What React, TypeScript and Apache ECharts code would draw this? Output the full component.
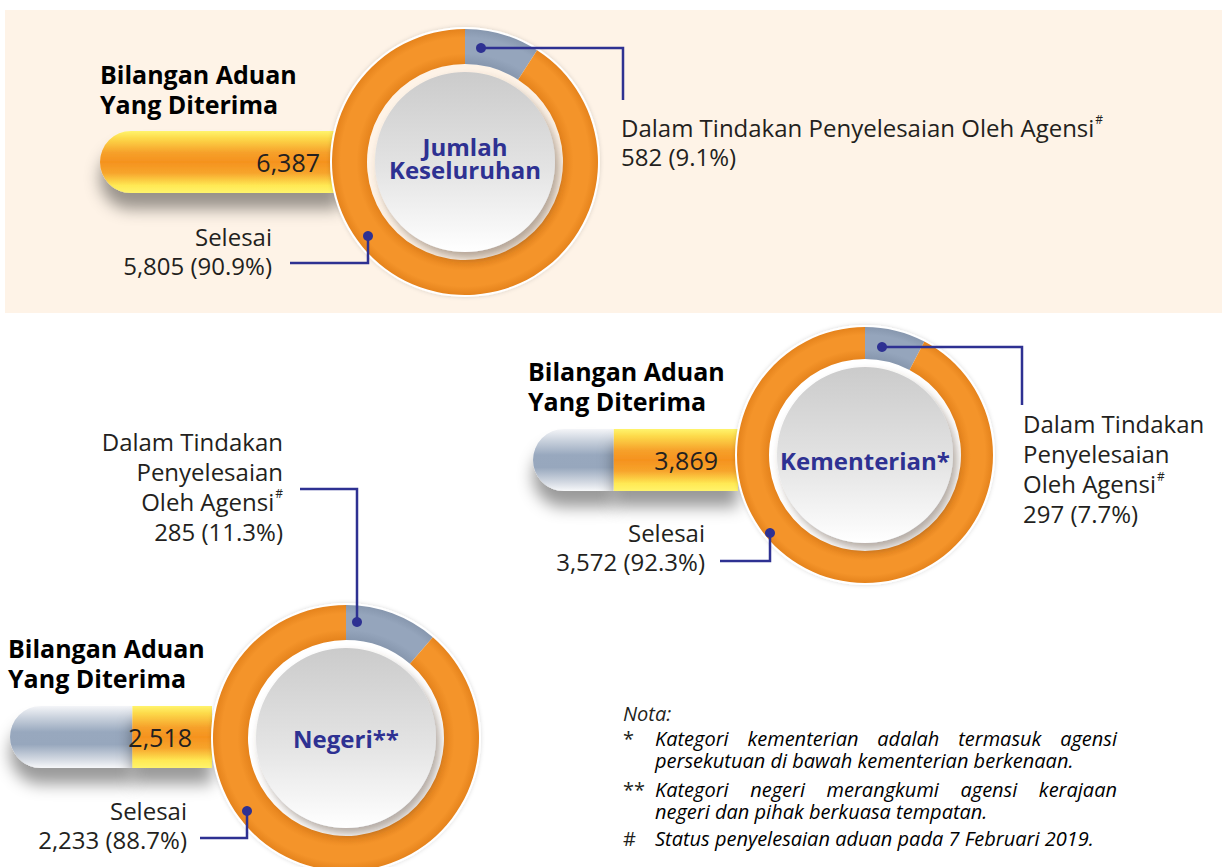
import React, { useEffect, useRef } from 'react';
import * as echarts from 'echarts';

// ---------- data ----------
const categories = ['Jumlah Keseluruhan', 'Kementerian*', 'Negeri**'];
const centerLabels = ['Jumlah\nKeseluruhan', 'Kementerian*', 'Negeri**'];
const received = [6387, 3869, 2518];
const completed = [5805, 3572, 2233];
const inProgress = [582, 297, 285];
const completedPct = ['90.9%', '92.3%', '88.7%'];
const inProgressPct = ['9.1%', '7.7%', '11.3%'];
const titleText = 'Bilangan Aduan\nYang Diterima';
const completedLabel = 'Selesai';
const inProgressLabel = 'Dalam Tindakan Penyelesaian Oleh Agensi';
const notes = [
  { mark: '*', lines: ['Kategori kementerian adalah termasuk agensi', 'persekutuan di bawah kementerian berkenaan.'] },
  { mark: '**', lines: ['Kategori negeri merangkumi agensi kerajaan', 'negeri dan pihak berkuasa tempatan.'] },
  { mark: '#', lines: ['Status penyelesaian aduan pada 7 Februari 2019.'] },
];

// ---------- layout ----------
const FONT = '"Open Sans", Lato, sans-serif';
const NAVY = '#2E3192';
const TEXT = '#231F20';
const PANEL = '#FEF3E7';

const donuts = [
  { cx: 465, cy: 162, r: 133, ri: 98, rc: 90, bg: PANEL, ly: 158 },
  { cx: 865, cy: 455, r: 128, ri: 96, rc: 88, bg: '#FFFFFF', ly: 460 },
  { cx: 346, cy: 738, r: 133, ri: 98, rc: 90, bg: '#FFFFFF', ly: 738 },
];
const bars = [
  { left: 100, top: 131, width: 240 },
  { left: 533, top: 429, width: 205 },
  { left: 10, top: 706, width: 202 },
];
const titles = [
  { x: 100, y: 59 },
  { x: 528, y: 356 },
  { x: 8, y: 633 },
];
const selesaiPos = [
  { x: 272, y: 236, line: [[368, 236], [368, 263], [290, 263]] },
  { x: 705, y: 532, line: [[770, 533], [770, 561], [720, 561]] },
  { x: 187, y: 810, line: [[247, 811], [247, 838], [200, 838]] },
];
const dalamPos = [
  { line: [[481, 48], [623, 48], [623, 100]] },
  { line: [[882, 347], [1022, 347], [1022, 405]] },
  { line: [[357, 622], [357, 489], [300, 489]] },
];

const fmt = (v: number) => v.toLocaleString('en-US');

function orangeGrad() {
  return new echarts.graphic.LinearGradient(0, 0, 0, 1, [
    { offset: 0, color: '#FFF46C' },
    { offset: 0.12, color: '#FDD94A' },
    { offset: 0.35, color: '#F6A02A' },
    { offset: 0.5, color: '#F5921E' },
    { offset: 0.68, color: '#F7A52C' },
    { offset: 0.88, color: '#FFE954' },
    { offset: 1, color: '#FFF46C' },
  ]);
}
function steelGrad() {
  return new echarts.graphic.LinearGradient(0, 0, 0, 1, [
    { offset: 0, color: '#F4F5F8' },
    { offset: 0.18, color: '#CBD3DE' },
    { offset: 0.42, color: '#98A8BE' },
    { offset: 0.62, color: '#97A7BD' },
    { offset: 0.86, color: '#D3D9E2' },
    { offset: 1, color: '#F7F8FA' },
  ]);
}
function ringGrad(cx: number, cy: number, r: number, ri: number, c1: string, c2: string) {
  const a = ri / r;
  return new echarts.graphic.RadialGradient(cx, cy, r, [
    { offset: 0, color: c2 },
    { offset: a, color: c2 },
    { offset: a + (1 - a) * 0.3, color: c1 },
    { offset: a + (1 - a) * 0.75, color: c1 },
    { offset: 1, color: c2 },
  ], true);
}

export default function App() {
  const ref = useRef<HTMLDivElement>(null);

  useEffect(() => {
    if (!ref.current) return;
    const chart = echarts.init(ref.current, undefined, { renderer: 'svg' });

    const maxVal = received[0];
    const grids: any[] = [];
    const xAxes: any[] = [];
    const yAxes: any[] = [];
    const series: any[] = [];
    const graphic: any[] = [];

    graphic.push({ type: 'rect', z: 0, shape: { x: 5, y: 10, width: 1217, height: 303 }, style: { fill: PANEL } });

    const canvas = document.createElement('canvas');
    const ctx = canvas.getContext('2d')!;

    const txt = (x: number, y: number, text: string, font: string, align: string, fill = TEXT, extra: any = {}) => ({
      type: 'text', z: 20, x, y,
      style: { text, fill, font, textAlign: align, align, textVerticalAlign: 'middle', verticalAlign: 'middle', ...extra },
    });

    categories.forEach((cat, i) => {
      const b = bars[i];
      grids.push({ left: b.left, top: b.top, width: b.width, height: 62, containLabel: false });
      xAxes.push({ gridIndex: i, type: 'value', min: 0, max: maxVal, show: false });
      yAxes.push({ gridIndex: i, type: 'category', data: [cat], show: false });
      const rest = maxVal - received[i];
      series.push({
        type: 'bar', xAxisIndex: i, yAxisIndex: i, stack: 's' + i, barWidth: 62, z: 3, silent: true,
        data: [rest],
        itemStyle: {
          color: steelGrad(), borderRadius: [31, 0, 0, 31],
          shadowColor: 'rgba(0,0,0,0.4)', shadowBlur: 16, shadowOffsetY: 16,
        },
      });
      series.push({
        type: 'bar', xAxisIndex: i, yAxisIndex: i, stack: 's' + i, barWidth: 62, z: 3, silent: true,
        data: [received[i]],
        itemStyle: {
          color: orangeGrad(), borderRadius: rest > 0 ? 0 : [31, 0, 0, 31],
          shadowColor: 'rgba(0,0,0,0.4)', shadowBlur: 16, shadowOffsetY: 16,
        },
        label: {
          show: true, position: 'insideRight', distance: 20,
          formatter: (p: any) => fmt(p.value), fontSize: 25, fontFamily: FONT, color: TEXT,
        },
      });

      const d = donuts[i];
      graphic.push({ type: 'circle', z: 4, shape: { cx: d.cx, cy: d.cy, r: d.r + 2 }, style: { fill: '#FFFFFF', shadowColor: 'rgba(0,0,0,0.15)', shadowBlur: 4 } });
      graphic.push({ type: 'circle', z: 4, shape: { cx: d.cx, cy: d.cy, r: d.ri }, style: { fill: d.bg } });
      series.push({
        type: 'pie', z: 5, silent: true, center: [d.cx, d.cy], radius: [d.ri, d.r], startAngle: 90, clockwise: true,
        label: { show: false }, labelLine: { show: false },
        data: [
          { name: inProgressLabel, value: inProgress[i], itemStyle: { color: ringGrad(d.cx, d.cy, d.r, d.ri, '#95A5BC', '#8797AE') } },
          { name: completedLabel, value: completed[i], itemStyle: { color: ringGrad(d.cx, d.cy, d.r, d.ri, '#F4942A', '#E5831C') } },
        ],
      });
      graphic.push({
        type: 'circle', z: 10, shape: { cx: d.cx, cy: d.cy, r: d.rc },
        style: {
          fill: new echarts.graphic.LinearGradient(0, 0, 0, 1, [
            { offset: 0, color: '#CBCBCB' },
            { offset: 0.55, color: '#E4E4E4' },
            { offset: 1, color: '#FFFFFF' },
          ]),
          shadowColor: 'rgba(90,70,50,0.45)', shadowBlur: 8, shadowOffsetX: 4, shadowOffsetY: 6,
        },
      });
      graphic.push(txt(d.cx, d.ly, centerLabels[i], `bold 24px ${FONT}`, 'center', NAVY, { lineHeight: 23 }));

      graphic.push({
        type: 'text', z: 20, x: titles[i].x, y: titles[i].y,
        style: { text: titleText, fill: '#000000', font: `bold 25px ${FONT}`, lineHeight: 30, textAlign: 'left', align: 'left', textVerticalAlign: 'top', verticalAlign: 'top' },
      });

      const s = selesaiPos[i];
      graphic.push({
        type: 'text', z: 20, x: s.x, y: s.y - 14,
        style: { text: `${completedLabel}\n${fmt(completed[i])} (${completedPct[i]})`, fill: TEXT, font: `24px ${FONT}`, lineHeight: 29, textAlign: 'right', align: 'right', textVerticalAlign: 'top', verticalAlign: 'top' },
      });
      graphic.push({ type: 'polyline', z: 15, shape: { points: s.line }, style: { stroke: NAVY, lineWidth: 2.5, fill: null } });
      graphic.push({ type: 'circle', z: 16, shape: { cx: s.line[0][0], cy: s.line[0][1], r: 5 }, style: { fill: NAVY } });

      const dl = dalamPos[i];
      graphic.push({ type: 'polyline', z: 15, shape: { points: dl.line }, style: { stroke: NAVY, lineWidth: 2.5, fill: null } });
      graphic.push({ type: 'circle', z: 16, shape: { cx: dl.line[0][0], cy: dl.line[0][1], r: 5 }, style: { fill: NAVY } });
    });

    const LABEL_FONT = `24px ${FONT}`;
    const SUP_FONT = `12px ${FONT}`;
    ctx.font = SUP_FONT;
    const supW = ctx.measureText('#').width;
    ctx.font = LABEL_FONT;

    const valText = (i: number) => `${fmt(inProgress[i])} (${inProgressPct[i]})`;
    // top label (single line)
    graphic.push({
      type: 'text', z: 20, x: 621, y: 113,
      style: { text: `${inProgressLabel}\n${valText(0)}`, fill: TEXT, font: LABEL_FONT, lineHeight: 29, textAlign: 'left', align: 'left', textVerticalAlign: 'top', verticalAlign: 'top' },
    });
    graphic.push(txt(621 + ctx.measureText(inProgressLabel).width + 1, 119, '#', SUP_FONT, 'left'));

    const words = inProgressLabel.split(' ');
    const split3 = [words.slice(0, 2).join(' '), words[2], words.slice(3).join(' ')];
    // right block (Kementerian)
    graphic.push({
      type: 'text', z: 20, x: 1023, y: 408,
      style: { text: `${split3.join('\n')}\n${valText(1)}`, fill: TEXT, font: LABEL_FONT, lineHeight: 30, textAlign: 'left', align: 'left', textVerticalAlign: 'top', verticalAlign: 'top' },
    });
    graphic.push(txt(1023 + ctx.measureText(split3[2]).width + 1, 476, '#', SUP_FONT, 'left'));
    // left block (Negeri), right aligned; line 3 shifted left to leave room for the superscript
    const leftX = 283;
    const leftTop = 426;
    [split3[0], split3[1], null, valText(2)].forEach((t, k) => {
      if (t === null) return;
      graphic.push(txt(leftX, leftTop + 15 + k * 30, t, LABEL_FONT, 'right'));
    });
    graphic.push(txt(leftX - supW - 1, leftTop + 15 + 60, split3[2], LABEL_FONT, 'right'));
    graphic.push(txt(leftX - supW, leftTop + 15 + 60 - 8, '#', SUP_FONT, 'left'));

    // notes
    const NOTE_SIZE = 20;
    const noteFont = `italic ${NOTE_SIZE}px ${FONT}`;
    ctx.font = noteFont;
    graphic.push(txt(623, 713, 'Nota:', noteFont, 'left'));
    const blockTops = [727, 778, 827];
    const textLeft = 655, textRight = 1117;
    notes.forEach((n, ni) => {
      graphic.push(txt(623, blockTops[ni] + 11, n.mark, `${NOTE_SIZE}px ${FONT}`, 'left'));
      const noteRich: any = {
        n: { fontSize: NOTE_SIZE, fontStyle: 'italic', fontFamily: FONT, color: TEXT, lineHeight: 22 },
      };
      const lines = n.lines.map((ln, li) => {
        const justify = li < n.lines.length - 1;
        if (!justify) return `{n|${ln}}`;
        const ws = ln.split(' ');
        const widths = ws.map((w) => ctx.measureText(w).width);
        const total = widths.reduce((a, c) => a + c, 0);
        const gap = (textRight - textLeft - total) / (ws.length - 1);
        const key = `g${li}`;
        noteRich[key] = { ...noteRich.n, padding: [0, gap, 0, 0] };
        return ws.map((w, wi) => (wi < ws.length - 1 ? `{${key}|${w}}` : `{n|${w}}`)).join('');
      });
      graphic.push({
        type: 'text', z: 20, x: textLeft, y: blockTops[ni],
        style: { text: lines.join('\n'), rich: noteRich, textAlign: 'left', align: 'left', textVerticalAlign: 'top', verticalAlign: 'top' },
      });
    });

    chart.setOption({
      animation: false,
      backgroundColor: '#FFFFFF',
      grid: grids,
      xAxis: xAxes,
      yAxis: yAxes,
      series,
      graphic: { elements: graphic },
    });
    return () => chart.dispose();
  }, []);

  return <div ref={ref} style={{ position: 'absolute', left: 0, top: 0, width: 1224, height: 867 }} />;
}
